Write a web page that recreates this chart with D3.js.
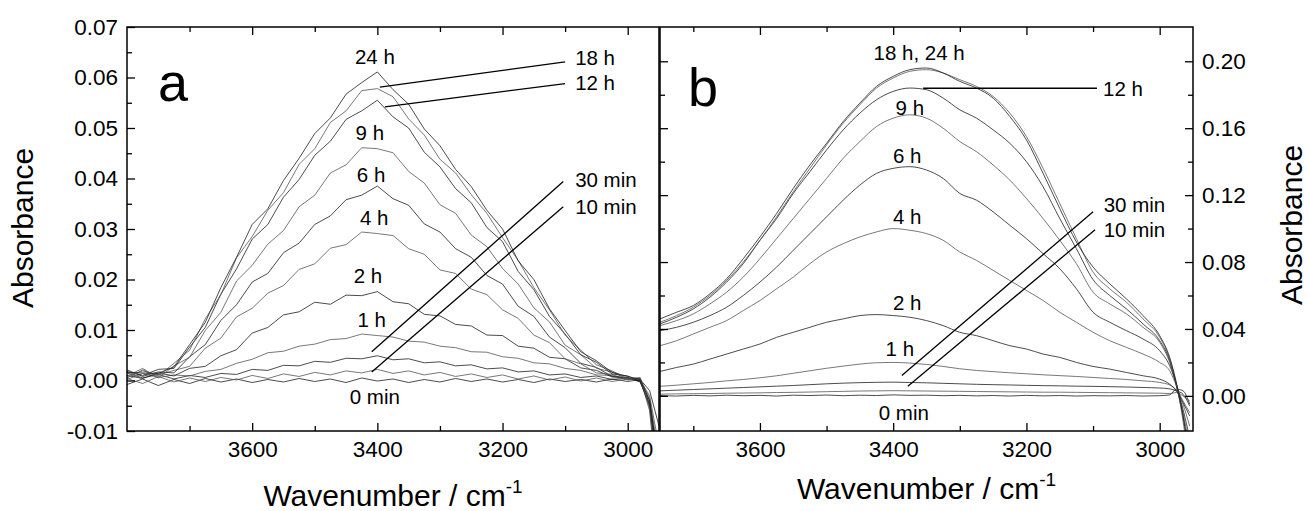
<!DOCTYPE html>
<html lang="en">
<head>
<meta charset="UTF-8">
<title>IR absorbance spectra</title>
<script src="https://d3js.org/d3.v7.min.js"></script>
<style>
  body { margin: 0; background: #fff; font-family: "Liberation Sans", Arial, sans-serif; }
  .tick text { font-size: 22.5px; fill: #000; font-family: "Liberation Sans", Arial, sans-serif; }
  .tick line { stroke: #000; stroke-width: 1.3; }
  .spec { fill: none; stroke-width: 0.8; }
  .note { font-size: 20.5px; fill: #000; }
  .leader { stroke: #000; stroke-width: 1.3; }
  .title { font-size: 30px; fill: #000; }
</style>
</head>
<body>
<svg id="chart" width="1309" height="511"></svg>
<script>
// ---- panel a: wavenumbers and absorbance per exposure time ----
const waveA = [3800, 3775, 3750, 3725, 3700, 3675, 3650, 3625, 3600, 3575, 3550, 3525, 3500, 3475, 3450, 3425, 3400, 3375,
  3350, 3325, 3300, 3275, 3250, 3225, 3200, 3175, 3150, 3125, 3100, 3075, 3050, 3025, 3000, 2980, 2965, 2950];
const a24h = [0.0016, 0.0015, 0.0014, 0.0027, 0.0071, 0.0115, 0.0184, 0.0244, 0.0309, 0.0340, 0.0396, 0.0440, 0.0489, 0.0520, 0.0567, 0.0590, 0.0611, 0.0576,
  0.0547, 0.0498, 0.0465, 0.0418, 0.0384, 0.0337, 0.0300, 0.0237, 0.0200, 0.0142, 0.0099, 0.0057, 0.0039, 0.0016, 0.0008, 0.0002, -0.0040, -0.0200];
const a18h = [0.0005, 0.0021, 0.0009, 0.0034, 0.0060, 0.0122, 0.0170, 0.0243, 0.0285, 0.0337, 0.0372, 0.0428, 0.0459, 0.0511, 0.0534, 0.0574, 0.0578, 0.0562,
  0.0518, 0.0486, 0.0438, 0.0411, 0.0368, 0.0331, 0.0283, 0.0238, 0.0184, 0.0140, 0.0090, 0.0060, 0.0031, 0.0019, 0.0004, 0.0006, -0.0055, -0.0220];
const a12h = [0.0018, 0.0010, 0.0022, 0.0024, 0.0066, 0.0105, 0.0171, 0.0221, 0.0280, 0.0309, 0.0363, 0.0398, 0.0446, 0.0474, 0.0517, 0.0534, 0.0555, 0.0522,
  0.0500, 0.0452, 0.0423, 0.0380, 0.0352, 0.0303, 0.0275, 0.0216, 0.0180, 0.0127, 0.0092, 0.0051, 0.0036, 0.0013, 0.0009, -0.0002, -0.0050, -0.0180];
const a9h = [0.0009, 0.0024, 0.0005, 0.0029, 0.0046, 0.0099, 0.0135, 0.0197, 0.0228, 0.0270, 0.0297, 0.0344, 0.0367, 0.0411, 0.0427, 0.0461, 0.0459, 0.0451,
  0.0414, 0.0391, 0.0348, 0.0331, 0.0288, 0.0265, 0.0222, 0.0191, 0.0144, 0.0116, 0.0070, 0.0051, 0.0024, 0.0017, 0.0002, 0.0004, -0.0060, -0.0250];
const a6h = [0.0021, 0.0008, 0.0017, 0.0015, 0.0047, 0.0071, 0.0119, 0.0150, 0.0195, 0.0212, 0.0253, 0.0272, 0.0309, 0.0326, 0.0358, 0.0367, 0.0385, 0.0360,
  0.0347, 0.0310, 0.0294, 0.0261, 0.0244, 0.0208, 0.0191, 0.0147, 0.0127, 0.0086, 0.0065, 0.0034, 0.0026, 0.0008, 0.0006, -0.0003, -0.0045, -0.0160];
const a4h = [0.0006, 0.0019, 0.0011, 0.0020, 0.0028, 0.0064, 0.0084, 0.0126, 0.0143, 0.0173, 0.0188, 0.0220, 0.0231, 0.0262, 0.0269, 0.0294, 0.0291, 0.0287,
  0.0261, 0.0250, 0.0219, 0.0212, 0.0181, 0.0170, 0.0140, 0.0123, 0.0090, 0.0075, 0.0043, 0.0033, 0.0015, 0.0012, 0.0001, 0.0004, -0.0050, -0.0190];
const a2h = [0.0010, 0.0004, 0.0015, 0.0009, 0.0024, 0.0028, 0.0049, 0.0061, 0.0094, 0.0105, 0.0130, 0.0136, 0.0155, 0.0151, 0.0169, 0.0168, 0.0176, 0.0156,
  0.0152, 0.0131, 0.0128, 0.0111, 0.0108, 0.0090, 0.0089, 0.0068, 0.0064, 0.0046, 0.0043, 0.0025, 0.0020, 0.0007, 0.0005, 0.0000, -0.0040, -0.0170];
const a1h = [0.0002, 0.0014, 0.0006, 0.0011, 0.0009, 0.0018, 0.0022, 0.0034, 0.0042, 0.0055, 0.0058, 0.0068, 0.0072, 0.0081, 0.0083, 0.0092, 0.0089, 0.0086,
  0.0078, 0.0076, 0.0068, 0.0065, 0.0057, 0.0056, 0.0047, 0.0044, 0.0035, 0.0033, 0.0024, 0.0020, 0.0011, 0.0010, 0.0002, 0.0003, -0.0035, -0.0150];
const a30m = [0.0015, 0.0005, 0.0012, 0.0003, 0.0010, 0.0006, 0.0014, 0.0012, 0.0022, 0.0020, 0.0030, 0.0029, 0.0038, 0.0036, 0.0044, 0.0043, 0.0049, 0.0041,
  0.0043, 0.0035, 0.0037, 0.0029, 0.0031, 0.0023, 0.0025, 0.0017, 0.0019, 0.0011, 0.0013, 0.0006, 0.0009, 0.0002, 0.0005, -0.0002, -0.0050, -0.0210];
const a10m = [0.0004, -0.0006, 0.0008, -0.0003, 0.0005, -0.0002, 0.0006, 0.0001, 0.0010, 0.0004, 0.0013, 0.0008, 0.0016, 0.0011, 0.0019, 0.0015, 0.0022, 0.0014,
  0.0019, 0.0011, 0.0016, 0.0008, 0.0013, 0.0006, 0.0011, 0.0003, 0.0009, 0.0001, 0.0007, -0.0001, 0.0005, -0.0002, 0.0003, 0.0000, -0.0030, -0.0130];
const a0m = [-0.0008, 0.0003, -0.0010, 0.0002, -0.0006, 0.0004, -0.0003, 0.0003, -0.0004, 0.0002, -0.0003, 0.0004, -0.0002, 0.0003, -0.0004, 0.0005, -0.0001, 0.0003,
  -0.0004, 0.0002, -0.0003, 0.0004, -0.0002, 0.0003, -0.0003, 0.0002, -0.0004, 0.0003, -0.0002, 0.0002, -0.0003, 0.0003, -0.0002, 0.0002, -0.0020, -0.0090];

// ---- panel b ----
const waveB = [3750, 3725, 3700, 3675, 3650, 3625, 3600, 3575, 3550, 3525, 3500, 3475, 3450, 3425, 3400, 3375, 3350, 3325,
  3300, 3275, 3250, 3225, 3200, 3175, 3150, 3125, 3100, 3075, 3050, 3025, 3000, 2985, 2975, 2965, 2955];
const b24h = [0.046, 0.050, 0.054, 0.061, 0.070, 0.082, 0.095, 0.109, 0.124, 0.138, 0.151, 0.164, 0.175, 0.185, 0.191, 0.195, 0.196, 0.193,
  0.188, 0.184, 0.178, 0.167, 0.153, 0.133, 0.112, 0.092, 0.077, 0.067, 0.058, 0.048, 0.036, 0.023, 0.008, -0.012, -0.040];
const b18h = [0.044, 0.048, 0.053, 0.060, 0.069, 0.080, 0.093, 0.107, 0.122, 0.136, 0.150, 0.163, 0.174, 0.184, 0.190, 0.194, 0.195, 0.193,
  0.189, 0.185, 0.179, 0.169, 0.155, 0.136, 0.115, 0.094, 0.074, 0.064, 0.056, 0.046, 0.035, 0.022, 0.007, -0.015, -0.045];
const b12h = [0.043, 0.047, 0.052, 0.059, 0.068, 0.079, 0.093, 0.106, 0.121, 0.134, 0.147, 0.159, 0.169, 0.177, 0.182, 0.184, 0.183, 0.178,
  0.171, 0.166, 0.159, 0.151, 0.140, 0.125, 0.106, 0.088, 0.0695, 0.060, 0.052, 0.043, 0.033, 0.021, 0.006, -0.012, -0.035];
const b9h = [0.042, 0.045, 0.049, 0.055, 0.062, 0.071, 0.082, 0.094, 0.106, 0.118, 0.130, 0.142, 0.152, 0.161, 0.166, 0.168, 0.166, 0.160,
  0.152, 0.146, 0.138, 0.129, 0.118, 0.106, 0.093, 0.079, 0.062, 0.055, 0.049, 0.041, 0.032, 0.020, 0.007, -0.010, -0.030];
const b6h = [0.039, 0.041, 0.044, 0.048, 0.053, 0.060, 0.068, 0.077, 0.087, 0.097, 0.107, 0.117, 0.126, 0.133, 0.136, 0.137, 0.135, 0.130,
  0.121, 0.117, 0.110, 0.102, 0.094, 0.085, 0.076, 0.064, 0.050, 0.044, 0.039, 0.034, 0.027, 0.018, 0.007, -0.008, -0.025];
const b4h = [0.030, 0.033, 0.037, 0.041, 0.045, 0.051, 0.057, 0.064, 0.071, 0.079, 0.086, 0.091, 0.095, 0.098, 0.100, 0.099, 0.097, 0.093,
  0.086, 0.081, 0.075, 0.069, 0.063, 0.057, 0.050, 0.044, 0.038, 0.033, 0.029, 0.025, 0.020, 0.015, 0.006, -0.005, -0.018];
const b2h = [0.0146, 0.017, 0.019, 0.022, 0.025, 0.028, 0.031, 0.035, 0.038, 0.041, 0.044, 0.046, 0.048, 0.0486, 0.048, 0.047, 0.045, 0.042,
  0.038, 0.036, 0.033, 0.030, 0.028, 0.025, 0.023, 0.020, 0.0176, 0.016, 0.014, 0.012, 0.010, 0.007, 0.003, -0.004, -0.012];
const b1h = [0.0057, 0.0064, 0.0072, 0.0080, 0.0090, 0.0098, 0.0108, 0.0120, 0.0135, 0.0150, 0.0165, 0.0178, 0.0190, 0.0198, 0.0200, 0.0196, 0.0188, 0.0176,
  0.0162, 0.0152, 0.0145, 0.0138, 0.0132, 0.0126, 0.0121, 0.0116, 0.0110, 0.0104, 0.0098, 0.0090, 0.0080, 0.0065, 0.0035, -0.0030, -0.0100];
const b30m = [0.0030, 0.0034, 0.0038, 0.0042, 0.0046, 0.0050, 0.0054, 0.0058, 0.0062, 0.0067, 0.0072, 0.0076, 0.0079, 0.0081, 0.0082, 0.0080, 0.0078, 0.0075,
  0.0072, 0.0069, 0.0067, 0.0065, 0.0063, 0.0061, 0.0060, 0.0058, 0.0057, 0.0055, 0.0053, 0.0050, 0.0047, 0.0042, 0.0030, 0.0010, -0.0060];
const b10m = [0.0010, 0.0012, 0.0013, 0.0014, 0.0016, 0.0017, 0.0018, 0.0020, 0.0021, 0.0023, 0.0025, 0.0027, 0.0029, 0.0030, 0.0031, 0.0030, 0.0029, 0.0028,
  0.0027, 0.0026, 0.0025, 0.0024, 0.0023, 0.0022, 0.0022, 0.0021, 0.0020, 0.0019, 0.0018, 0.0017, 0.0016, 0.0014, 0.0020, 0.0000, -0.0030];
const b0m = [0.0002, -0.0001, 0.0003, 0.0000, 0.0004, 0.0001, 0.0003, -0.0001, 0.0004, 0.0002, 0.0005, 0.0001, 0.0004, 0.0002, 0.0006, 0.0003, 0.0004, 0.0001,
  0.0003, 0.0000, 0.0002, -0.0001, 0.0003, 0.0000, 0.0002, -0.0001, 0.0001, 0.0000, 0.0002, -0.0001, 0.0001, 0.0006, 0.0040, 0.0030, -0.0050];

// ---- tick values ----
const xMajor = [3600, 3400, 3200, 3000];
const xMinor = [3700, 3500, 3300, 3100];
const yMajorA = [-0.01, 0.00, 0.01, 0.02, 0.03, 0.04, 0.05, 0.06, 0.07];
const yMinorA = [-0.005, 0.005, 0.015, 0.025, 0.035, 0.045, 0.055, 0.065];
const yMajorB = [0.00, 0.04, 0.08, 0.12, 0.16, 0.20];
const yMinorB = [0.02, 0.06, 0.10, 0.14, 0.18];

// ---- annotations: [text, wavenumber, absorbance, anchor] ----
const notesA = [["24 h", 3404, 0.0641, "middle"], ["18 h", 3084, 0.0639, "start"], ["12 h", 3084, 0.0589, "start"],
  ["9 h", 3412, 0.0490, "middle"], ["6 h", 3410, 0.0407, "middle"], ["4 h", 3405, 0.0322, "middle"],
  ["2 h", 3415, 0.0207, "middle"], ["1 h", 3409, 0.0120, "middle"], ["0 min", 3404, -0.0032, "middle"],
  ["30 min", 3084, 0.0397, "start"], ["10 min", 3084, 0.0344, "start"]];
// leader lines: [w1, v1, w2, v2]
const leadersA = [[3396, 0.0581, 3100, 0.0631], [3388, 0.0542, 3100, 0.0588],
  [3409, 0.0057, 3103, 0.0394], [3409, 0.0017, 3103, 0.0344]];
const notesB = [["18 h, 24 h", 3361, 0.2054, "middle"], ["12 h", 3085, 0.1839, "start"],
  ["9 h", 3375, 0.1726, "middle"], ["6 h", 3379, 0.1439, "middle"], ["4 h", 3379, 0.1070, "middle"],
  ["2 h", 3379, 0.0557, "middle"], ["1 h", 3390, 0.0283, "middle"], ["0 min", 3384, -0.0098, "middle"],
  ["30 min", 3084, 0.1141, "start"], ["10 min", 3084, 0.0993, "start"]];
const leadersB = [[3355, 0.1839, 3094, 0.1839], [3387, 0.0122, 3100, 0.1100], [3378, 0.0057, 3097, 0.0993]];

const svg = d3.select("#chart");
const plotTop = 27, plotBottom = 431;

function drawPanel(cfg) {
  const x = d3.scaleLinear().domain(cfg.xDomain).range(cfg.xRange);
  const y = d3.scaleLinear().domain(cfg.yDomain).range([plotBottom, plotTop]);
  const g = svg.append("g");

  g.append("clipPath").attr("id", "clip" + cfg.id)
    .append("rect")
    .attr("x", cfg.xRange[0]).attr("y", plotTop)
    .attr("width", cfg.xRange[1] - cfg.xRange[0]).attr("height", plotBottom - plotTop);

  const line = d3.line()
    .x((d, i) => x(cfg.wave[i]))
    .y(d => y(d))
    .curve(cfg.curve);

  g.append("g").attr("clip-path", `url(#clip${cfg.id})`)
    .selectAll("path")
    .data(cfg.series)
    .join("path")
    .attr("class", "spec")
    .attr("stroke", (d, i) => i % 2 ? "#555" : "#1e1e1e")
    .attr("d", d => line(d));

  // ticks (inward), minor and major
  const addAxis = (axisFn, scale, vals, size, transform, fmt, pad) => {
    const ax = g.append("g")
      .attr("transform", transform)
      .call(axisFn(scale).tickValues(vals).tickSize(-size).tickPadding(pad)
        .tickFormat(fmt || (() => "")));
    ax.select(".domain").remove();
    return ax;
  };
  const fmt2 = d => d.toFixed(2);
  const xf = d => d3.format("d")(d);

  addAxis(d3.axisBottom, x, xMinor, 5, `translate(0,${plotBottom})`, null, 0);
  addAxis(d3.axisBottom, x, xMajor, 8, `translate(0,${plotBottom})`, xf, 10);
  addAxis(d3.axisTop, x, xMinor, 5, `translate(0,${plotTop})`, null, 0);
  addAxis(d3.axisTop, x, xMajor, 8, `translate(0,${plotTop})`, null, 0);

  if (cfg.id === "a") {
    addAxis(d3.axisLeft, y, yMinorA, 5, `translate(${cfg.xRange[0]},0)`, null, 0);
    addAxis(d3.axisLeft, y, yMajorA, 8, `translate(${cfg.xRange[0]},0)`, fmt2, 9);
  } else {
    addAxis(d3.axisRight, y, yMinorB, 5, `translate(${cfg.xRange[1]},0)`, null, 0);
    addAxis(d3.axisRight, y, yMajorB, 8, `translate(${cfg.xRange[1]},0)`, fmt2, 9);
    addAxis(d3.axisLeft, y, yMinorB, 5, `translate(${cfg.xRange[0]},0)`, null, 0);
    addAxis(d3.axisLeft, y, yMajorB, 8, `translate(${cfg.xRange[0]},0)`, null, 0);
  }

  // frame
  g.append("rect")
    .attr("x", cfg.xRange[0]).attr("y", plotTop)
    .attr("width", cfg.xRange[1] - cfg.xRange[0]).attr("height", plotBottom - plotTop)
    .attr("fill", "none").attr("stroke", "#000").attr("stroke-width", 1.5);

  // leader lines + labels
  g.selectAll(".leader")
    .data(cfg.leaders)
    .join("line")
    .attr("class", "leader")
    .attr("x1", d => x(d[0])).attr("y1", d => y(d[1]))
    .attr("x2", d => x(d[2])).attr("y2", d => y(d[3]));

  g.selectAll(".note")
    .data(cfg.notes)
    .join("text")
    .attr("class", "note")
    .attr("x", d => x(d[1]))
    .attr("y", d => y(d[2]))
    .attr("dy", "0.36em")
    .attr("text-anchor", d => d[3])
    .text(d => d[0]);

  // panel letter
  g.append("text")
    .attr("x", cfg.letterPos[0]).attr("y", cfg.letterPos[1])
    .style("font-size", "54px")
    .text(cfg.id);

  // x title
  const t = g.append("text")
    .attr("class", "title")
    .attr("x", (cfg.xRange[0] + cfg.xRange[1]) / 2)
    .attr("y", cfg.titleY)
    .attr("text-anchor", "middle");
  t.append("tspan").text("Wavenumber / cm");
  t.append("tspan").attr("dy", -13).style("font-size", "19px").text("-1");
}

drawPanel({
  id: "a",
  xDomain: [3800, 2950], xRange: [127, 659],
  yDomain: [-0.01, 0.07],
  wave: waveA,
  series: [a0m, a10m, a30m, a1h, a2h, a4h, a6h, a9h, a12h, a18h, a24h],
  curve: d3.curveLinear,
  notes: notesA, leaders: leadersA,
  letterPos: [158, 101], titleY: 506
});

drawPanel({
  id: "b",
  xDomain: [3750, 2950], xRange: [660, 1193],
  yDomain: [-0.021, 0.2205],
  wave: waveB,
  series: [b0m, b10m, b30m, b1h, b2h, b4h, b6h, b9h, b12h, b18h, b24h],
  curve: d3.curveMonotoneX,
  notes: notesB, leaders: leadersB,
  letterPos: [688, 106], titleY: 499
});

// y titles
svg.append("text").attr("class", "title")
  .attr("transform", "translate(33,228) rotate(-90)")
  .attr("text-anchor", "middle")
  .text("Absorbance");
svg.append("text").attr("class", "title")
  .attr("transform", "translate(1302,225) rotate(-90)")
  .attr("text-anchor", "middle")
  .text("Absorbance");
</script>
</body>
</html>
